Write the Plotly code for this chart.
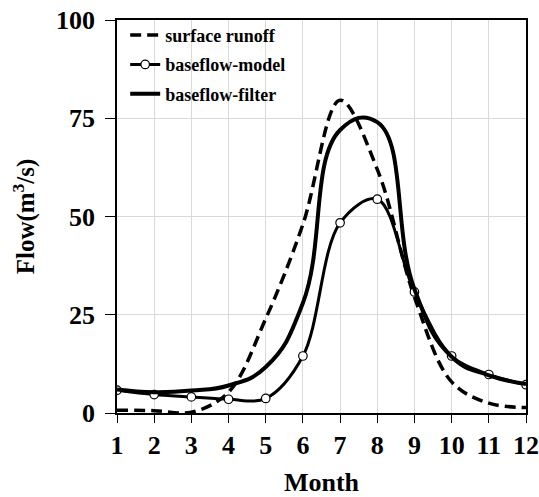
import plotly.graph_objects as go

months = [1, 2, 3, 4, 5, 6, 7, 8, 9, 10, 11, 12]
surface_runoff = [0.7, 0.6, 0.2, 5.3, 24.0, 48.0, 79.6, 62.0, 29.5, 7.9, 2.5, 1.4]
baseflow_model = [5.8, 4.7, 4.1, 3.5, 3.7, 14.5, 48.4, 54.4, 30.8, 14.5, 9.8, 7.2]
baseflow_filter = [6.0, 5.3, 5.7, 7.0, 11.7, 28.0, 72.0, 74.0, 31.5, 14.3, 9.6, 7.4]
x_ticks = [1, 2, 3, 4, 5, 6, 7, 8, 9, 10, 11, 12]
y_ticks = [0, 25, 50, 75, 100]

FONT = "Liberation Serif, Times New Roman, serif"

fig = go.Figure()
fig.add_trace(go.Scatter(
    x=months, y=surface_runoff, name="surface runoff", mode="lines",
    line=dict(color="black", width=3.5, dash="11px,6px", shape="spline", smoothing=1.0),
    legendgroup="a"))
fig.add_trace(go.Scatter(
    x=months, y=baseflow_model, name="baseflow-model", mode="lines+markers",
    line=dict(color="black", width=3, shape="spline", smoothing=1.0),
    marker=dict(symbol="circle", size=8.5, color="white", line=dict(color="black", width=1.2)),
    legendgroup="b"))
fig.add_trace(go.Scatter(
    x=months, y=baseflow_filter, name="baseflow-filter", mode="lines",
    line=dict(color="black", width=4, shape="spline", smoothing=1.3),
    legendgroup="c"))

fig.update_layout(
    width=539, height=497,
    margin=dict(l=117, r=13, t=20, b=84),
    paper_bgcolor="white", plot_bgcolor="white",
    font=dict(family=FONT, color="black", weight="bold"),
    showlegend=True,
    legend=dict(x=0.02, y=1.008, xanchor="left", yanchor="top",
                bgcolor="rgba(0,0,0,0)", borderwidth=0,
                font=dict(family=FONT, size=18, color="black", weight="bold"),
                tracegroupgap=3, itemwidth=30),
    xaxis=dict(
        range=[1, 12], tickvals=x_ticks, ticktext=[str(v) for v in x_ticks],
        showgrid=True, gridcolor="#d9d9d9", gridwidth=1,
        showline=True, linecolor="black", linewidth=1.5, mirror=True,
        ticks="outside", ticklen=8, tickcolor="black", tickwidth=1,
        tickfont=dict(family=FONT, size=26, color="black", weight="bold"),
        ticklabelstandoff=0, automargin=False, ticklabeloverflow="allow",
        zeroline=False,
        title=dict(text="Month", font=dict(family=FONT, size=26, color="black", weight="bold"), standoff=27),
    ),
    yaxis=dict(
        range=[0, 100], tickvals=y_ticks, ticktext=[str(v) for v in y_ticks],
        showgrid=True, gridcolor="#d9d9d9", gridwidth=1,
        showline=True, linecolor="black", linewidth=1.5, mirror=True,
        ticks="outside", ticklen=10, tickcolor="black", tickwidth=1,
        tickfont=dict(family=FONT, size=26, color="black", weight="bold"),
        ticklabelstandoff=5, automargin=False, ticklabeloverflow="allow",
        zeroline=False,
        title=dict(text="Flow(m<sup>3</sup>/s)", font=dict(family=FONT, size=25, color="black", weight="bold"), standoff=14),
    ),
)

# remove the browser's default 8px body margin so the 539x497 figure fills the window
fig.write_html("out.html", config={"displayModeBar": False},
               post_script="document.body.style.margin='0';")
